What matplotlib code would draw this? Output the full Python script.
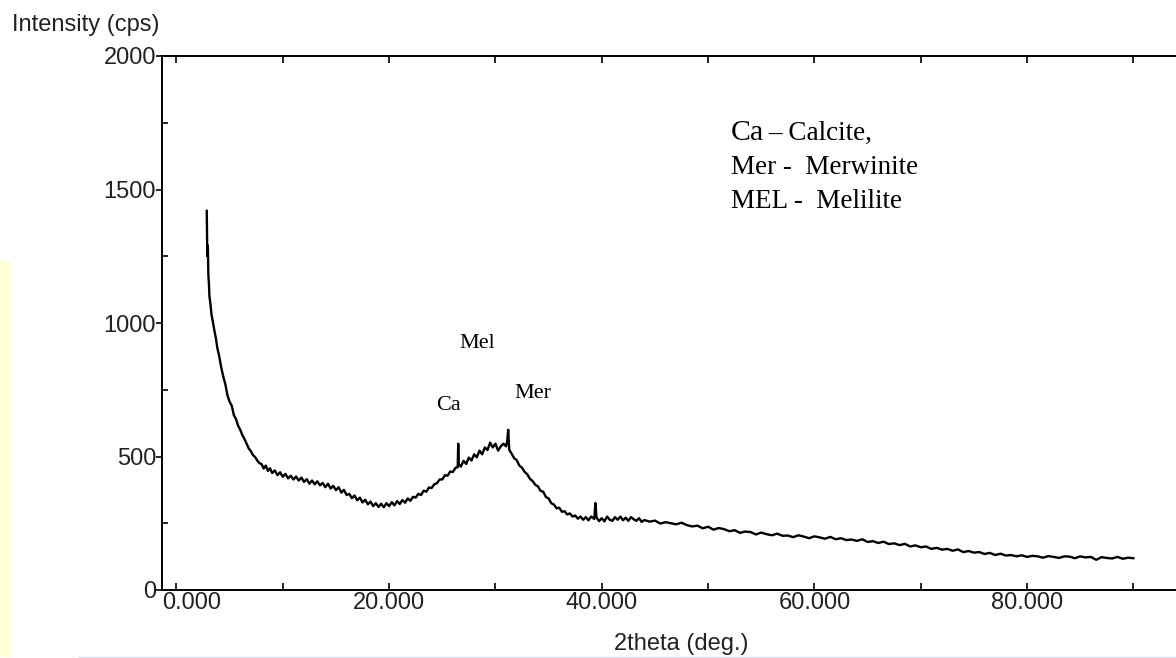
import matplotlib
matplotlib.use("Agg")
import matplotlib.pyplot as plt
from matplotlib import font_manager
from matplotlib.patches import Rectangle

# 2theta (deg.) positions and intensity (cps)
two_theta = [
    2.85, 2.88, 2.90, 2.95, 3.00, 3.05, 3.10, 3.20, 3.30, 3.40, 3.55, 3.70, 3.85,
    4.00, 4.20, 4.40, 4.60, 4.80, 5.00, 5.20, 5.40, 5.60, 5.80, 6.00, 6.20, 6.40,
    6.60, 6.80, 7.00, 7.20, 7.40, 7.60, 7.80, 8.00, 8.20, 8.40, 8.60, 8.80, 9.00,
    9.25, 9.50, 9.75, 10.0, 10.25, 10.5, 10.75, 11.0, 11.25, 11.5, 11.75, 12.0,
    12.25, 12.5, 12.75, 13.0, 13.25, 13.5, 13.75, 14.0, 14.25, 14.5, 14.75, 15.0,
    15.25, 15.5, 15.75, 16.0, 16.25, 16.5, 16.75, 17.0, 17.25, 17.5, 17.75, 18.0,
    18.25, 18.5, 18.75, 19.0, 19.25, 19.5, 19.75, 20.0, 20.25, 20.5, 20.75, 21.0,
    21.25, 21.5, 21.75, 22.0, 22.25, 22.5, 22.75, 23.0, 23.25, 23.5, 23.75, 24.0,
    24.25, 24.5, 24.75, 25.0, 25.25, 25.5, 25.75, 26.0, 26.25, 26.45, 26.5, 26.55,
    26.75, 27.0, 27.25, 27.5, 27.75, 28.0, 28.25, 28.5, 28.75, 29.0, 29.25, 29.5,
    29.75, 30.0, 30.25, 30.5, 30.75, 31.0, 31.1, 31.2, 31.3, 31.5, 31.75, 32.0,
    32.25, 32.5, 32.75, 33.0, 33.25, 33.5, 33.75, 34.0, 34.25, 34.5, 34.75, 35.0,
    35.25, 35.5, 35.75, 36.0, 36.25, 36.5, 36.75, 37.0, 37.25, 37.5, 37.75, 38.0,
    38.25, 38.5, 38.75, 39.0, 39.3, 39.4, 39.5, 39.75, 40.0, 40.25, 40.5, 40.75,
    41.0, 41.25, 41.5, 41.75, 42.0, 42.25, 42.5, 42.75, 43.0, 43.25, 43.5, 43.75,
    44.0, 44.5, 45.0, 45.5, 46.0, 46.5, 47.0, 47.5, 48.0, 48.5, 49.0, 49.5, 50.0,
    50.5, 51.0, 51.5, 52.0, 52.5, 53.0, 53.5, 54.0, 54.5, 55.0,
    55.5, 56.0, 56.5, 57.0, 57.5, 58.0, 58.5, 59.0, 59.5, 60.0,
    60.5, 61.0, 61.5, 62.0, 62.5, 63.0, 63.5, 64.0, 64.5, 65.0,
    65.5, 66.0, 66.5, 67.0, 67.5, 68.0, 68.5, 69.0, 69.5, 70.0,
    70.5, 71.0, 71.5, 72.0, 72.5, 73.0, 73.5, 74.0, 74.5, 75.0,
    75.5, 76.0, 76.5, 77.0, 77.5, 78.0, 78.5, 79.0, 79.5, 80.0,
    80.5, 81.0, 81.5, 82.0, 82.5, 83.0, 83.5, 84.0, 84.5, 85.0,
    85.5, 86.0, 86.5, 87.0, 87.5, 88.0, 88.5, 89.0, 89.5, 90.0,
]
intensity = [
    1420, 1300, 1250, 1290, 1180, 1150, 1100, 1070, 1030, 1010, 975, 945, 905,
    880, 835, 800, 770, 728, 705, 690, 655, 640, 615, 600, 580, 565,
    548, 530, 520, 505, 498, 485, 475, 472, 455, 466, 446, 456, 438,
    448, 430, 441, 424, 435, 418, 428, 414, 425, 410, 421, 405,
    415, 398, 410, 396, 407, 392, 401, 385, 398, 380, 390, 374,
    385, 365, 375, 356, 360, 344, 354, 336, 346, 328, 338, 321,
    331, 314, 325, 311, 323, 310, 325, 314, 329, 317, 333, 322,
    337, 327, 343, 334, 349, 346, 360, 356, 372, 368, 384, 382,
    396, 400, 414, 414, 430, 428, 444, 442, 458, 460, 548, 472,
    462, 484, 472, 496, 485, 508, 497, 522, 508, 534, 524, 552,
    534, 548, 522, 538, 548, 538, 556, 600, 525, 512, 494, 486,
    466, 458, 442, 433, 416, 408, 394, 388, 371, 368, 348, 343,
    325, 320, 306, 308, 293, 295, 283, 287, 275, 279, 267, 275,
    263, 273, 261, 275, 266, 326, 272, 258, 269, 257, 275, 263,
    259, 273, 263, 275, 261, 271, 259, 273, 265, 259, 269, 255,
    262, 256, 260, 249, 254, 250, 246, 252, 243, 238, 241, 231, 237,
    226, 232, 228, 220, 224, 214, 219, 217, 208, 215,
    209, 205, 211, 203, 204, 198, 205, 200, 194, 201,
    197, 192, 199, 190, 194, 187, 189, 184, 190, 180,
    183, 176, 181, 172, 175, 168, 173, 163, 167, 160,
    163, 154, 158, 151, 154, 147, 152, 142, 146, 140,
    142, 135, 139, 131, 136, 129, 131, 126, 130, 124,
    128, 126, 121, 127, 124, 120, 126, 125, 119, 126,
    122, 124, 113, 123, 120, 118, 124, 117, 121, 119,
]

x_major = [0, 20, 40, 60, 80]
x_minor = [10, 30, 50, 70, 90]
x_labels = ["0.000", "20.000", "40.000", "60.000", "80.000"]
y_major = [0, 500, 1000, 1500, 2000]
y_minor = [250, 750, 1250, 1750]

# peak labels: (text, 2theta, intensity)
peak_names = ["Ca", "Mel", "Mer"]
peak_x = [24.4, 26.6, 31.8]
peak_y = [674, 906, 719]

W, H = 1176, 658

names = {f.name for f in font_manager.fontManager.ttflist}
if "Liberation Sans Narrow" in names:
    ui_font, ui_size = "Liberation Sans Narrow", 20.5
else:
    ui_font, ui_size = "Liberation Sans", 17
serif = "Liberation Serif"

fig = plt.figure(figsize=(W / 100, H / 100), dpi=100)
fig.patch.set_facecolor("white")

# pale strips along the left and bottom edges of the screenshot
fig.patches.append(Rectangle((0, 2 / H), 10 / W, (H - 261 - 2) / H,
                             transform=fig.transFigure, color="#FFFFD6", zorder=0))
fig.patches.append(Rectangle((78 / W, 0), 1 - 78 / W, 1.5 / H,
                             transform=fig.transFigure, color="#DCE3F5", zorder=0))

ax = fig.add_axes([162 / W, 68 / H, (1177 - 162) / W, (590 - 56) / H])
ax.plot(two_theta, intensity, color="black", lw=1.7)

ax.set_xlim(-1.36, 94.1)
ax.set_ylim(0, 2000)

for side in ["left", "bottom", "top", "right"]:
    ax.spines[side].set_linewidth(1.4)
    ax.spines[side].set_color("black")

ax.set_xticks(x_major)
ax.set_xticks(x_minor, minor=True)
ax.set_xticklabels([""] + x_labels[1:], fontfamily=ui_font, fontsize=ui_size, color="#222222")
ax.set_yticks(y_major)
ax.set_yticks(y_minor, minor=True)
ax.set_yticklabels([str(v) for v in y_major], fontfamily=ui_font, fontsize=ui_size, color="#222222")

ax.tick_params(axis="x", which="both", direction="in", top=True, length=5, width=1.2, pad=1.5)
ax.tick_params(axis="y", which="major", direction="out", length=4.2, width=1.2, pad=0)
ax.tick_params(axis="y", which="minor", direction="in", length=4, width=1.2)

# first label sits to the right of its tick in the original
ax.annotate(x_labels[0], xy=(0, 0), xycoords=("data", "axes fraction"),
            xytext=(-14.5, -2), textcoords="offset pixels", ha="left", va="top",
            fontfamily=ui_font, fontsize=ui_size, color="#222222")

fig.text(12 / W, 1 - 31 / H, "Intensity (cps)", ha="left", va="baseline",
         fontfamily=ui_font, fontsize=ui_size, color="#222222")
fig.text(681 / W, 1 - 650 / H, "2theta (deg.)", ha="center", va="baseline",
         fontfamily=ui_font, fontsize=ui_size, color="#222222")

for name, px, py in zip(peak_names, peak_x, peak_y):
    ax.text(px, py, name, ha="left", va="baseline", fontfamily=serif, fontsize=16)

# phase key
ax.text(52.1, 1685, "Ca", ha="left", va="baseline", fontfamily=serif, fontsize=21.5)
ax.text(55.6, 1685, "\u2013 Calcite,", ha="left", va="baseline", fontfamily=serif, fontsize=19.5)
ax.text(52.15, 1558, "Mer -  Merwinite", ha="left", va="baseline", fontfamily=serif, fontsize=19.5)
ax.text(52.15, 1431, "MEL -  Melilite", ha="left", va="baseline", fontfamily=serif, fontsize=19.5)

fig.savefig("out.png", dpi=100, facecolor=fig.get_facecolor())
